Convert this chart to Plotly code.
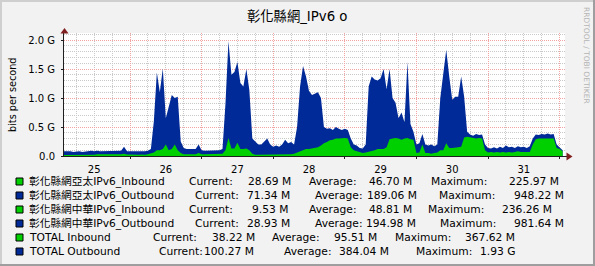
import plotly.graph_objects as go

# ---------------- data ----------------
title = "彰化縣網_IPv6 o"
day_labels = ["25", "26", "27", "28", "29", "30", "31"]
y_tick_vals = [0.0, 0.5, 1.0, 1.5, 2.0]
y_tick_text = ["0.0", "0.5 G", "1.0 G", "1.5 G", "2.0 G"]

# hourly samples (Gbit/s), hour 0 = day 25 00:00
out_25 = [0.08,0.08,0.08,0.09,0.08,0.07,0.08,0.08,0.07,0.08,0.08,0.09,0.08,0.09,0.08,0.08,0.09,0.08,0.08,0.09,0.08,0.09,0.16,0.08]
out_26 = [0.08,0.08,0.07,0.08,0.08,0.08,0.09,0.12,0.60,1.44,1.10,1.51,0.65,0.85,1.05,1.00,1.02,0.25,0.14,0.12,0.12,0.13,0.12,0.20]
out_27 = [0.10,0.09,0.09,0.09,0.10,0.09,0.10,0.12,0.90,1.98,1.40,1.45,1.62,1.26,1.20,1.50,1.14,0.30,0.25,0.20,0.20,0.25,0.30,0.20]
out_28 = [0.16,0.18,0.16,0.20,0.28,0.22,0.24,0.20,0.50,1.20,1.55,1.37,1.12,1.05,1.08,1.10,1.00,0.50,0.47,0.48,0.45,0.50,0.47,0.45]
out_29 = [0.47,0.45,0.30,0.20,0.18,0.14,0.13,0.20,1.20,1.37,1.32,1.30,1.34,1.50,1.15,1.50,1.00,0.92,0.65,0.75,0.58,1.62,0.55,0.42]
out_30 = [0.20,0.22,0.38,0.20,0.18,0.20,0.17,0.20,1.00,1.40,1.83,1.37,0.97,1.02,1.02,1.37,1.02,0.42,0.37,0.35,0.38,0.36,0.37,0.20]
out_31 = [0.14,0.13,0.15,0.13,0.16,0.14,0.18,0.15,0.16,0.14,0.17,0.15,0.16,0.14,0.17,0.30,0.37,0.36,0.38,0.37,0.39,0.37,0.38,0.20]
out_32 = [0.15,0.10]

in_25 = [0.015,0.015,0.015,0.015,0.015,0.01,0.01,0.01,0.01,0.01,0.015,0.015,0.02,0.03,0.03,0.025,0.03,0.03,0.025,0.03,0.03,0.03,0.04,0.025]
in_26 = [0.025,0.02,0.025,0.02,0.025,0.02,0.03,0.04,0.06,0.10,0.10,0.12,0.20,0.10,0.12,0.20,0.10,0.05,0.03,0.03,0.03,0.03,0.03,0.05]
in_27 = [0.03,0.03,0.03,0.03,0.03,0.03,0.03,0.04,0.10,0.31,0.13,0.13,0.23,0.12,0.12,0.13,0.10,0.04,0.02,0.02,0.02,0.02,0.02,0.02]
in_28 = [0.02,0.02,0.03,0.02,0.03,0.03,0.03,0.04,0.06,0.08,0.10,0.12,0.12,0.13,0.15,0.15,0.18,0.22,0.24,0.27,0.28,0.30,0.30,0.31]
in_29 = [0.31,0.30,0.15,0.10,0.08,0.06,0.05,0.06,0.07,0.08,0.10,0.12,0.12,0.12,0.15,0.29,0.30,0.31,0.30,0.28,0.30,0.31,0.29,0.28]
in_30 = [0.05,0.06,0.20,0.05,0.05,0.04,0.05,0.06,0.10,0.10,0.22,0.14,0.14,0.14,0.15,0.16,0.32,0.33,0.32,0.31,0.30,0.31,0.30,0.10]
in_31 = [0.06,0.07,0.06,0.07,0.06,0.07,0.06,0.07,0.06,0.07,0.08,0.07,0.07,0.08,0.07,0.20,0.29,0.30,0.30,0.31,0.30,0.30,0.30,0.14]
in_32 = [0.12,0.08]

legend_names = ["彰化縣網亞太IPv6_Inbound", "彰化縣網亞太IPv6_Outbound",
                "彰化縣網中華IPv6_Inbound", "彰化縣網中華IPv6_Outbound",
                "TOTAL Inbound", "TOTAL Outbound"]
legend_current = ["28.69 M", "71.34 M", "9.53 M", "28.93 M", "38.22 M", "100.27 M"]
legend_average = ["46.70 M", "189.06 M", "48.81 M", "194.98 M", "95.51 M", "384.04 M"]
legend_maximum = ["225.97 M", "948.22 M", "236.26 M", "981.64 M", "367.62 M", "1.93 G"]

# ---------------- style / layout ----------------
GREEN = "#00CF00"
BLUE = "#002A97"
W, H = 595, 266
PL, PR, PT, PB = 64, 565, 33, 156          # plot box in pixels
X_RANGE = [1.88, 169.8]                    # hours
Y_RANGE = [0, (PB - PT) / 58.0]
FONT = "DejaVu Sans, Noto Sans CJK TC, sans-serif"

outbound = out_25 + out_26 + out_27 + out_28 + out_29 + out_30 + out_31 + out_32
inbound = in_25 + in_26 + in_27 + in_28 + in_29 + in_30 + in_31 + in_32
hours = list(range(len(outbound)))
n_days = len(day_labels)
midnights = [24 * (i + 1) for i in range(n_days)]
noons = [24 * i + 12 for i in range(n_days)]


def px(x):
    return (x - PL) / (PR - PL)


def py(y):
    return (PB - y) / (PB - PT)


fig = go.Figure()
fig.add_trace(go.Scatter(x=hours, y=outbound, mode="lines", line=dict(width=0, color=BLUE),
                         fill="tozeroy", fillcolor=BLUE, hoverinfo="skip"))
fig.add_trace(go.Scatter(x=hours, y=inbound, mode="lines", line=dict(width=0, color=GREEN),
                         fill="tozeroy", fillcolor=GREEN, hoverinfo="skip", xaxis="x2"))

GRID = "#C9C9C9"
MGRID = "#F2A3A3"
fig.update_layout(
    width=W, height=H,
    margin=dict(l=PL, r=W - PR, t=PT, b=H - PB, pad=0),
    paper_bgcolor="#F2F2F2", plot_bgcolor="#FFFFFF",
    showlegend=False,
    font=dict(family=FONT, size=10, color="#000000"),
    xaxis=dict(range=X_RANGE, tickmode="array", tickvals=midnights, showticklabels=False,
               showgrid=True, gridcolor=MGRID, griddash="1px,1px", gridwidth=1,
               zeroline=False, showline=True, linecolor="#1F1F1F", linewidth=1,
               ticks="outside", ticklen=2, tickcolor="#1F1F1F",
               minor=dict(tickmode="linear", tick0=0, dtick=6, showgrid=True,
                          gridcolor=GRID, griddash="1px,1px", gridwidth=1, ticks="")),
    xaxis2=dict(overlaying="x", matches="x", side="bottom", anchor="y",
                tickmode="array", tickvals=noons, ticktext=day_labels,
                showgrid=False, zeroline=False, showline=False, ticks="outside",
                ticklen=4, tickcolor="rgba(0,0,0,0)",
                tickfont=dict(size=10, family=FONT, color="#000000")),
    yaxis=dict(range=Y_RANGE, tickmode="array", tickvals=y_tick_vals, ticktext=y_tick_text,
               showgrid=True, gridcolor=MGRID, griddash="1px,1px", gridwidth=1,
               zeroline=False, showline=True, linecolor="#1F1F1F", linewidth=1,
               ticks="outside", ticklen=2, tickcolor="#1F1F1F", ticklabelstandoff=4,
               tickfont=dict(size=10, family=FONT, color="#000000"),
               minor=dict(tickmode="linear", tick0=0, dtick=0.1, showgrid=True,
                          gridcolor=GRID, griddash="1px,1px", gridwidth=1, ticks="")),
)

shapes = []
# 3D frame
shapes.append(dict(type="rect", xref="paper", yref="paper", x0=px(0), x1=px(W), y0=py(0), y1=py(2),
                   fillcolor="#CFCFCF", line=dict(width=0)))
shapes.append(dict(type="rect", xref="paper", yref="paper", x0=px(0), x1=px(2), y0=py(0), y1=py(H),
                   fillcolor="#CFCFCF", line=dict(width=0)))
shapes.append(dict(type="rect", xref="paper", yref="paper", x0=px(0), x1=px(W), y0=py(H - 2), y1=py(H),
                   fillcolor="#9E9E9E", line=dict(width=0)))
shapes.append(dict(type="rect", xref="paper", yref="paper", x0=px(W - 2), x1=px(W), y0=py(0), y1=py(H),
                   fillcolor="#9E9E9E", line=dict(width=0)))
# axis extensions + arrows
shapes.append(dict(type="line", xref="paper", yref="paper", x0=px(PR), x1=px(567), y0=py(PB + 0.5), y1=py(PB + 0.5),
                   line=dict(color="#1F1F1F", width=1)))
shapes.append(dict(type="line", xref="paper", yref="paper", x0=px(PL - 0.5), x1=px(PL - 0.5), y0=py(PT), y1=py(PT - 2),
                   line=dict(color="#1F1F1F", width=1)))
shapes.append(dict(type="path", xref="paper", yref="paper",
                   path=f"M {px(566.5)} {py(152.5)} L {px(572.5)} {py(156.5)} L {px(566.5)} {py(160.5)} Z",
                   fillcolor="#801F1F", line=dict(width=0)))
shapes.append(dict(type="path", xref="paper", yref="paper",
                   path=f"M {px(60.5)} {py(33.5)} L {px(64.5)} {py(28)} L {px(68.5)} {py(33.5)} Z",
                   fillcolor="#801F1F", line=dict(width=0)))

annotations = []
annotations.append(dict(text=title, xref="paper", yref="paper", x=px(297), y=py(16),
                        xanchor="center", yanchor="middle", showarrow=False,
                        font=dict(size=13.3, family=FONT, color="#000000")))
annotations.append(dict(text="bits per second", xref="paper", yref="paper", x=px(12), y=py(95),
                        xanchor="center", yanchor="middle", showarrow=False, textangle=-90,
                        font=dict(size=9.7, family=FONT, color="#000000")))
annotations.append(dict(text="RRDTOOL / TOBI OETIKER", xref="paper", yref="paper", x=px(586.5), y=py(5),
                        xanchor="center", yanchor="top", showarrow=False, textangle=90,
                        font=dict(size=7.5, family=FONT, color="#B4B4B4")))

# legend
leg_colors = [GREEN, BLUE, GREEN, BLUE, GREEN, BLUE]
leg_x = [[28.3, 189, 247.3, 308.3, 368.3, 430.7, 508.3],
         [28.3, 195, 247, 314.3, 366.7, 439, 513.3],
         [28.3, 189, 251.7, 308.3, 368.3, 427.7, 501.7],
         [28.3, 195, 247, 314.3, 366, 439.3, 513.3],
         [28.3, 152.7, 211.7, 271.7, 333.3, 395, 465],
         [28.3, 159, 204, 283.3, 339, 416, 480]]
for i, name in enumerate(legend_names):
    yc = 181.5 + 14 * i
    shapes.append(dict(type="rect", xref="paper", yref="paper", x0=px(16), x1=px(23),
                       y0=py(yc - 3.5), y1=py(yc + 3.5), fillcolor=leg_colors[i],
                       line=dict(color="#000000", width=1)))
    pieces = [name, "Current:", legend_current[i], "Average:", legend_average[i],
              "Maximum:", legend_maximum[i]]
    for xx, t in zip(leg_x[i], pieces):
        annotations.append(dict(text=t, xref="paper", yref="paper", x=px(xx - 1.8), y=py(yc),
                                xanchor="left", yanchor="middle", showarrow=False,
                                font=dict(size=10.7, family=FONT, color="#000000")))

fig.update_layout(shapes=shapes, annotations=annotations)
fig.write_html("out.html")
